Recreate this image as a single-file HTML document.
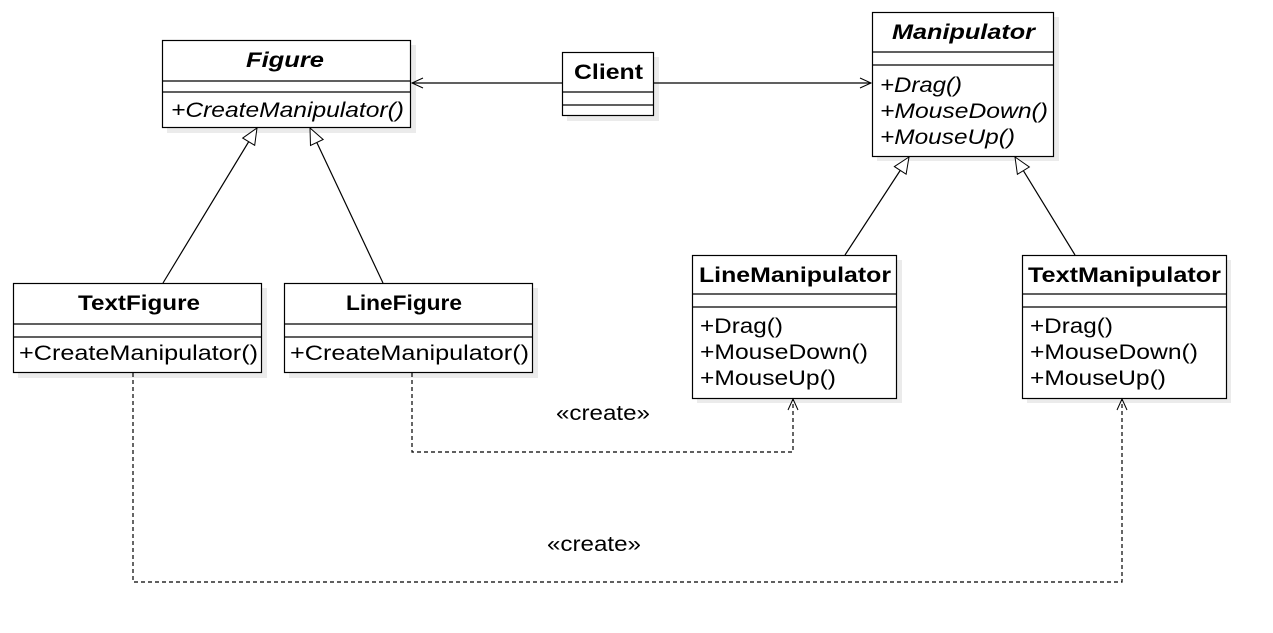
<!DOCTYPE html>
<html><head><meta charset="utf-8"><style>
html,body{margin:0;padding:0;background:#fff;width:1273px;height:633px;overflow:hidden}
text{font-family:"Liberation Sans",Arial,sans-serif;fill:#000}
</style></head><body>
<svg width="1273" height="633" viewBox="0 0 1273 633" xmlns="http://www.w3.org/2000/svg">
<defs>
<marker id="tri" markerWidth="20" markerHeight="20" refX="17" refY="8" orient="auto" markerUnits="userSpaceOnUse">
<path d="M1,1 L17,8 L1,15 Z" fill="#fff" stroke="#000" stroke-width="1"/></marker>
<marker id="open" markerWidth="14" markerHeight="14" refX="12" refY="6" orient="auto" markerUnits="userSpaceOnUse">
<path d="M1,1 L12,6 L1,11" fill="none" stroke="#000" stroke-width="1"/></marker>
</defs>
<g fill="#ebebeb">
<rect x="167" y="45" width="249" height="88"/>
<rect x="567" y="57" width="92" height="64"/>
<rect x="877" y="17" width="182" height="144"/>
<rect x="18" y="288" width="249" height="90"/>
<rect x="289" y="288" width="249" height="90"/>
<rect x="697" y="260" width="205" height="143"/>
<rect x="1027" y="260" width="204" height="143"/>
</g>
<g fill="#fff" stroke="#000" stroke-width="1.2">
<rect x="162.5" y="40.5" width="248" height="87"/>
<rect x="562.5" y="52.5" width="91" height="63"/>
<rect x="872.5" y="12.5" width="181" height="144"/>
<rect x="13.5" y="283.5" width="248" height="89"/>
<rect x="284.5" y="283.5" width="248" height="89"/>
<rect x="692.5" y="255.5" width="204" height="143"/>
<rect x="1022.5" y="255.5" width="204" height="143"/>
</g>
<g stroke="#000" stroke-width="1.2">
<line x1="162" y1="81" x2="411" y2="81"/><line x1="162" y1="92" x2="411" y2="92"/>
<line x1="562" y1="92" x2="654" y2="92"/><line x1="562" y1="105" x2="654" y2="105"/>
<line x1="872" y1="52" x2="1054" y2="52"/><line x1="872" y1="65" x2="1054" y2="65"/>
<line x1="13" y1="324" x2="262" y2="324"/><line x1="13" y1="337" x2="262" y2="337"/>
<line x1="284" y1="324" x2="533" y2="324"/><line x1="284" y1="337" x2="533" y2="337"/>
<line x1="692" y1="294" x2="897" y2="294"/><line x1="692" y1="307" x2="897" y2="307"/>
<line x1="1022" y1="294" x2="1227" y2="294"/><line x1="1022" y1="307" x2="1227" y2="307"/>
</g>
<g font-size="21">
<text x="246" y="67" font-weight="bold" font-style="italic" textLength="78" lengthAdjust="spacingAndGlyphs">Figure</text>
<text x="171" y="117" font-style="italic" textLength="233" lengthAdjust="spacingAndGlyphs">+CreateManipulator()</text>
<text x="574" y="79" font-weight="bold" textLength="69" lengthAdjust="spacingAndGlyphs">Client</text>
<text x="892" y="39" font-weight="bold" font-style="italic" textLength="143" lengthAdjust="spacingAndGlyphs">Manipulator</text>
<text x="880" y="92" font-style="italic" textLength="82" lengthAdjust="spacingAndGlyphs">+Drag()</text>
<text x="880" y="118" font-style="italic" textLength="168" lengthAdjust="spacingAndGlyphs">+MouseDown()</text>
<text x="880" y="144" font-style="italic" textLength="135" lengthAdjust="spacingAndGlyphs">+MouseUp()</text>
<text x="78" y="310" font-weight="bold" textLength="122" lengthAdjust="spacingAndGlyphs">TextFigure</text>
<text x="19" y="360" textLength="239" lengthAdjust="spacingAndGlyphs">+CreateManipulator()</text>
<text x="346" y="310" font-weight="bold" textLength="116" lengthAdjust="spacingAndGlyphs">LineFigure</text>
<text x="290" y="360" textLength="239" lengthAdjust="spacingAndGlyphs">+CreateManipulator()</text>
<text x="699" y="282" font-weight="bold" textLength="192" lengthAdjust="spacingAndGlyphs">LineManipulator</text>
<text x="700" y="333" textLength="83" lengthAdjust="spacingAndGlyphs">+Drag()</text>
<text x="700" y="359" textLength="168" lengthAdjust="spacingAndGlyphs">+MouseDown()</text>
<text x="700" y="385" textLength="136" lengthAdjust="spacingAndGlyphs">+MouseUp()</text>
<text x="1028" y="282" font-weight="bold" textLength="193" lengthAdjust="spacingAndGlyphs">TextManipulator</text>
<text x="1030" y="333" textLength="83" lengthAdjust="spacingAndGlyphs">+Drag()</text>
<text x="1030" y="359" textLength="168" lengthAdjust="spacingAndGlyphs">+MouseDown()</text>
<text x="1030" y="385" textLength="136" lengthAdjust="spacingAndGlyphs">+MouseUp()</text>
<text x="556" y="420" textLength="94" lengthAdjust="spacingAndGlyphs">«create»</text>
<text x="547" y="551" textLength="94" lengthAdjust="spacingAndGlyphs">«create»</text>
</g>
<g stroke="#000" stroke-width="1.2" fill="none">
<line x1="562" y1="83" x2="412" y2="83" marker-end="url(#open)"/>
<line x1="654" y1="83" x2="871" y2="83" marker-end="url(#open)"/>
<line x1="163" y1="283" x2="257" y2="128" marker-end="url(#tri)"/>
<line x1="383" y1="283" x2="310" y2="128" marker-end="url(#tri)"/>
<line x1="845" y1="255" x2="909" y2="157" marker-end="url(#tri)"/>
<line x1="1075" y1="255" x2="1015" y2="157" marker-end="url(#tri)"/>
<polyline points="412,373 412,452 793,452 793,399" stroke-dasharray="4,3" marker-end="url(#open)"/>
<polyline points="133,373 133,582 1122,582 1122,399" stroke-dasharray="4,3" marker-end="url(#open)"/>
</g>
</svg>
</body></html>
